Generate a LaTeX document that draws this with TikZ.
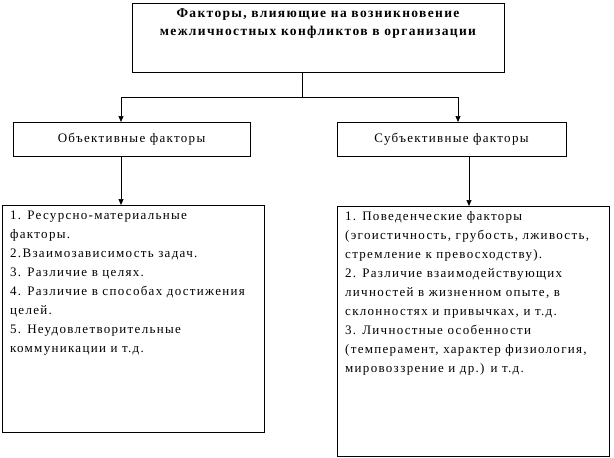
\documentclass[tikz,border=0pt]{standalone}
\usepackage{fontspec}
\setmainfont{Liberation Serif}[LetterSpace=10]
\usetikzlibrary{arrows.meta}
\begin{document}
\begin{tikzpicture}[x=1pt,y=-1pt,
  box/.style={draw,line width=0.9pt},
  conn/.style={line width=0.7pt},
  arr/.style={conn,-{Triangle[width=5pt,length=6pt]}},
  body/.style={font=\fontsize{13}{19}\selectfont},
  txt/.style={body,align=left,anchor=north west,inner sep=0pt}]
\useasboundingbox (0,0) rectangle (614,458);
\fill[white] (0,0) rectangle (614,458);
% boxes
\draw[box] (132,3) rectangle (504,72);
\node[font=\bfseries\fontsize{13.5}{18}\selectfont,align=center] (title) at (318,24) {Факторы, влияющие на возникновение\\межличностных конфликтов в организации};
\coordinate (tb) at (302,72);
\draw[box] (13,122) rectangle (250,156);
\node[body] (obj) at (131.5,139) {Объективные факторы};
\draw[box] (337,122) rectangle (566,156);
\node[body] (sub) at (451.5,139) {Субъективные факторы};
\draw[box] (2,205) rectangle (264,432);
\draw[box] (337,206) rectangle (609,456);
% coordinates
\coordinate (j) at (302,97);
\coordinate (l1) at (121,97);
\coordinate (r1) at (458,97);
\coordinate (lt) at (121,122);
\coordinate (rt) at (458,122);
\coordinate (lb) at (121,156);
\coordinate (lbb) at (121,205);
\coordinate (rb) at (469,156);
\coordinate (rbb) at (469,206);
\draw[conn] (tb) -- (j);
\draw[arr] (j) -- (l1) -- (lt);
\draw[arr] (j) -- (r1) -- (rt);
\draw[arr] (lb) -- (lbb);
\draw[arr] (rb) -- (rbb);
% texts
\node[txt] (ltext) at (10,211) {1. Ресурсно-материальные\\факторы.\\2.Взаимозависимость задач.\\3. Различие в целях.\\4. Различие в способах достижения\\целей.\\5. Неудовлетворительные\\коммуникации и т.д.};
\node[txt] (rtext) at (345,211) {1. Поведенческие факторы\\(эгоистичность, грубость, лживость,\\стремление к превосходству).\\2. Различие взаимодействующих\\личностей в жизненном опыте, в\\склонностях и привычках, и т.д.\\3. Личностные особенности\\(темперамент, характер физиология,\\мировоззрение и др.) и т.д.};
\end{tikzpicture}
\end{document}
